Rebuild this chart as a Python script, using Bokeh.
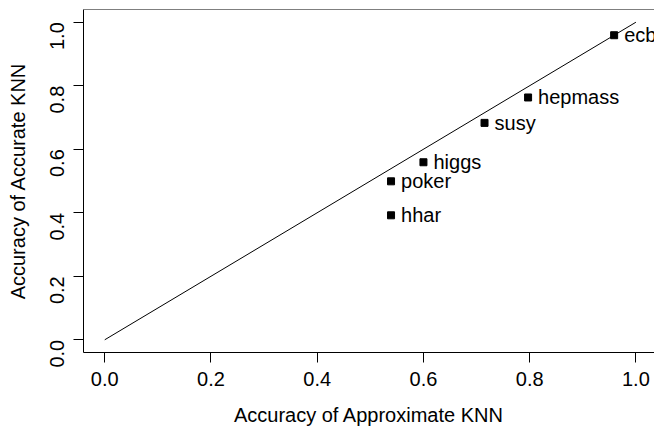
from bokeh.plotting import figure
from bokeh.models import ColumnDataSource, Range1d, FixedTicker, Span
from bokeh.core.properties import value
from bokeh.embed import file_html
from bokeh.resources import INLINE
import math

names = ["ecb", "hepmass", "susy", "higgs", "poker", "hhar"]
approx_acc = [0.959, 0.797, 0.715, 0.600, 0.539, 0.539]
accurate_acc = [0.959, 0.763, 0.683, 0.559, 0.499, 0.392]
diag_x = [0.0, 1.0]
diag_y = [0.0, 1.0]
ticks = [0.0, 0.2, 0.4, 0.6, 0.8, 1.0]
tick_labels = {0.0: "0.0", 0.2: "0.2", 0.4: "0.4", 0.6: "0.6", 0.8: "0.8", 1.0: "1.0"}

FONT = "Liberation Sans"
FS = "20px"

p = figure(width=654, height=428, output_backend="svg", toolbar_location=None,
           x_range=Range1d(-0.04, 1.035), y_range=Range1d(-0.04, 1.04),
           min_border_left=83, min_border_right=0, min_border_top=9, min_border_bottom=73)
p.grid.visible = False
p.outline_line_color = None
p.background_fill_color = "white"
p.border_fill_color = "white"

src = ColumnDataSource(dict(x=approx_acc, y=accurate_acc, name=names))
p.line(diag_x, diag_y, line_color="black", line_width=1)
p.scatter("x", "y", source=src, marker="square", size=7, fill_color="black", line_color="black")
p.text("x", "y", text="name", source=src, x_offset=10, text_baseline="middle", text_align="left",
       text_font=value(FONT), text_font_size=FS, text_color="black")

p.add_layout(Span(location=p.y_range.end, dimension="width", line_color="black", line_width=1))

for ax in (p.xaxis[0], p.yaxis[0]):
    ax.ticker = FixedTicker(ticks=ticks)
    ax.major_label_overrides = tick_labels
    ax.minor_tick_line_color = None
    ax.major_tick_in = 0
    ax.major_tick_out = 10
    ax.major_tick_line_color = "black"
    ax.axis_line_color = "black"
    ax.major_label_text_font = FONT
    ax.major_label_text_font_size = FS
    ax.major_label_text_color = "black"
    ax.axis_label_text_font = FONT
    ax.axis_label_text_font_size = FS
    ax.axis_label_text_font_style = "normal"
    ax.axis_label_text_color = "black"

p.xaxis.axis_label = "Accuracy of Approximate KNN"
p.yaxis.axis_label = "Accuracy of Accurate KNN"
p.xaxis.major_label_standoff = 9
p.xaxis.axis_label_standoff = 15
p.yaxis.major_label_orientation = math.pi / 2
p.yaxis.major_label_standoff = 16
p.yaxis.axis_label_standoff = 12

open("out.html", "w").write(file_html(p, INLINE))
